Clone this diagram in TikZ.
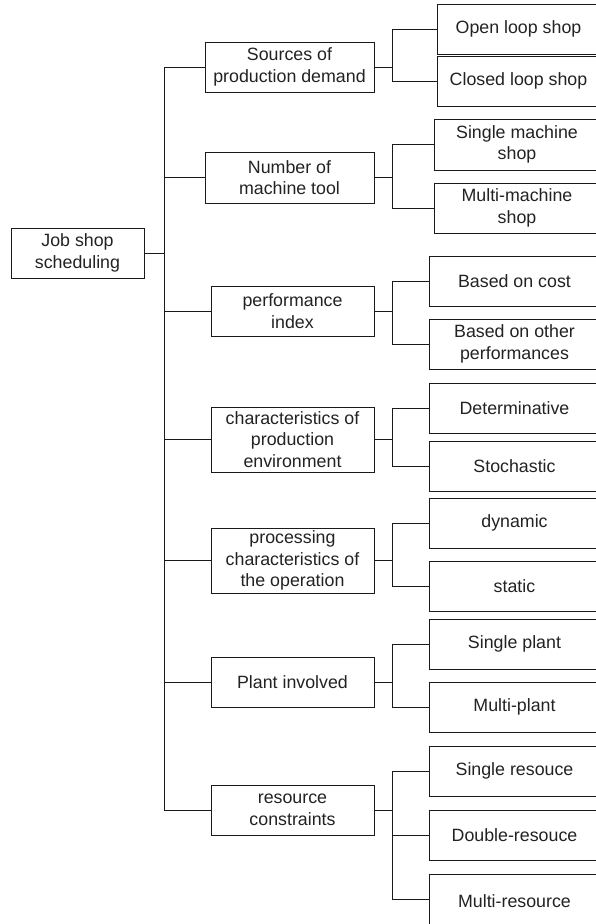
\documentclass[tikz,border=0pt]{standalone}
\usepackage{fontspec}
\setmainfont{Liberation Sans}
\usepackage{xcolor}
\usepackage{tikz}
\usetikzlibrary{
  arrows.meta,
  positioning,
  calc
}
\definecolor{jsLine}{HTML}{1A1A1A}
\definecolor{jsText}{HTML}{222222}
\tikzset{
  jsnode/.style={
    draw=jsLine, line width=0.8pt, inner sep=0pt, align=center,
    text=jsText, font=\fontsize{17.8}{21.5}\selectfont
  },
  jsroot/.style={jsnode, minimum width=133pt, minimum height=50pt},
  jscat/.style={jsnode, minimum width=163pt, minimum height=50pt},
  jsleaf/.style={jsnode, minimum width=171pt, minimum height=50pt},
  conn/.style={line width=0.9pt, jsLine}
}

\begin{document}
\begin{tikzpicture}[x=1pt, y=-1pt]
  \useasboundingbox (0,0) rectangle (595,924);
  % root
  \node[jsroot] (job) at (77.5,253) {Job shop\\scheduling};
  % categories
  \node[jscat, minimum width=169pt] (src) at (289.5,67) {Sources of\\production demand};
  \node[jscat, minimum width=169pt, minimum height=51pt] (num) at (289.5,177.5) {Number of\\machine tool};
  \node[jscat] (perf) at (292.5,311) {performance\\index};
  \node[jscat, minimum height=65pt] (env) at (292.5,439.5) {characteristics of\\production\\environment};
  \node[jscat, minimum height=65pt] (proc) at (292.5,560.5) {processing\\characteristics of\\the operation};
  \node[jscat] (plant) at (292.5,682) {Plant involved};
  \node[jscat] (res) at (292.5,810) {resource\\constraints};
  % leaves (cut by the right margin)
  \node[jsleaf, minimum width=163pt] (open) at (518.5,29) {Open loop shop};
  \node[jsleaf, minimum width=163pt] (closed) at (518.5,81) {Closed loop shop};
  \node[jsleaf, minimum width=166pt, minimum height=51pt] (single) at (517,144.5) {Single machine\\shop};
  \node[jsleaf, minimum width=166pt] (multi) at (517,208) {Multi-machine\\shop};
  \node[jsleaf] (cost) at (514.5,281) {Based on cost};
  \node[jsleaf] (other) at (514.5,344) {Based on other\\performances};
  \node[jsleaf] (det) at (514.5,408) {Determinative};
  \node[jsleaf] (sto) at (514.5,466) {Stochastic};
  \node[jsleaf] (dyn) at (514.5,523) {dynamic};
  \node[jsleaf] (stat) at (514.5,586) {static};
  \node[jsleaf] (splant) at (514.5,644) {Single plant};
  \node[jsleaf] (mplant) at (514.5,707) {Multi-plant};
  \node[jsleaf] (sres) at (514.5,771) {Single resouce};
  \node[jsleaf] (dres) at (514.5,835) {Double-resouce};
  \node[jsleaf, minimum height=54pt] (mres) at (514.5,901) {Multi-resource};
  % trunk
  \foreach \c in {src,num,perf,env,proc,plant,res}
    \draw[conn] (job.east) -- ++(20,0) |- (\c.west);
  % branches
  \foreach \c/\l in {src/open,src/closed,num/single,num/multi,perf/cost,perf/other,
                     env/det,env/sto,proc/dyn,proc/stat,plant/splant,plant/mplant,
                     res/sres,res/dres}
    \draw[conn] (\c.east) -- ++(18,0) |- (\l.west);
  \draw[conn] (res.east) -- ++(18,0) |- ([yshift=2pt]mres.west);
\end{tikzpicture}
\end{document}
